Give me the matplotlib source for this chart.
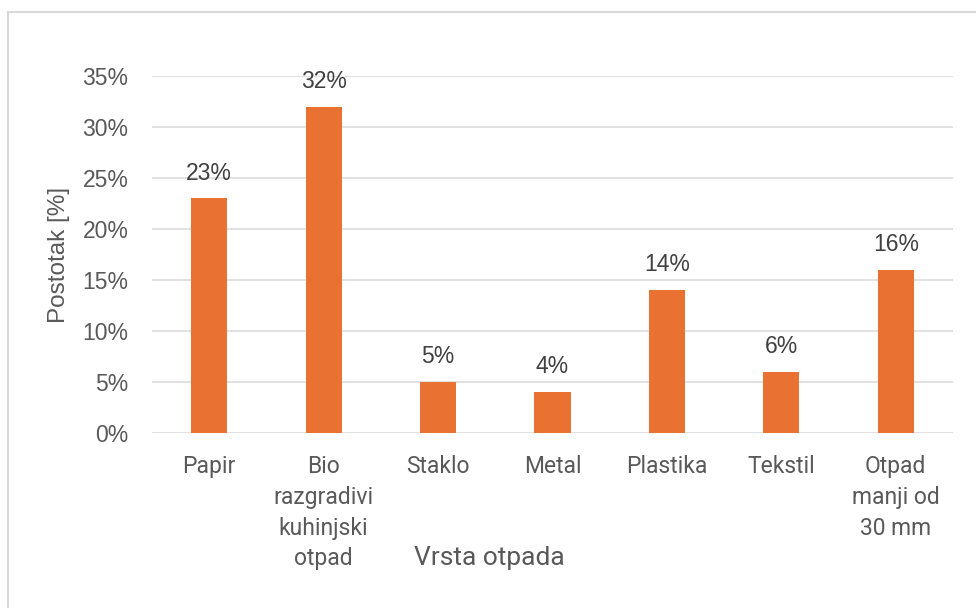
import matplotlib.pyplot as plt
from matplotlib.patches import Rectangle

categories = ["Papir", "Bio\nrazgradivi\nkuhinjski\notpad", "Staklo", "Metal",
              "Plastika", "Tekstil", "Otpad\nmanji od\n30 mm"]
values = [23, 32, 5, 4, 14, 6, 16]
yticks = [0, 5, 10, 15, 20, 25, 30, 35]

bar_color = "#E97132"
text_gray = "#595959"

fig = plt.figure(figsize=(9.76, 6.08), dpi=100)
ax = fig.add_axes([152 / 976, 1 - 433 / 608, (953 - 152) / 976, (433 - 76) / 608])

x = range(len(categories))
bars = ax.bar(x, values, width=0.315, color=bar_color, zorder=3)

ax.set_xlim(-0.5, len(categories) - 0.5)
ax.set_ylim(0, 35)
ax.set_yticks(yticks)
ax.set_yticklabels([f"{v}%" for v in yticks], fontsize=16.5, color=text_gray,
                   family="Liberation Sans")
ax.set_xticks(list(x))
ax.set_xticklabels(categories, fontsize=16.5, color=text_gray, family="Roboto",
                   linespacing=1.43)
ax.grid(axis="y", color="#d9d9d9", linewidth=1.1, zorder=0)
ax.tick_params(axis="both", length=0)
ax.tick_params(axis="y", pad=17)
ax.tick_params(axis="x", pad=16)
for s in ax.spines.values():
    s.set_visible(False)

for b, v in zip(bars, values):
    ax.annotate(f"{v}%", (b.get_x() + b.get_width() / 2, v), xytext=(0, 10),
                textcoords="offset points", ha="center", va="bottom",
                fontsize=16.5, color="#404040", family="Liberation Sans")

ax.set_ylabel("Postotak [%]", fontsize=17.5, color=text_gray, family="Liberation Sans")
ax.yaxis.set_label_coords(-(152 - 70) / 801, 0.5)
fig.text(489 / 976, 1 - 558 / 608, "Vrsta otpada", fontsize=19, color=text_gray,
         family="Roboto", ha="center", va="center")

# chart frame border
fig.patches.append(Rectangle((8 / 976, -0.1), 1.2, 1 - 12 / 608 + 0.1,
                             transform=fig.transFigure, fill=False,
                             edgecolor="#d9d9d9", linewidth=1.5))

fig.savefig("out.png", dpi=100)
